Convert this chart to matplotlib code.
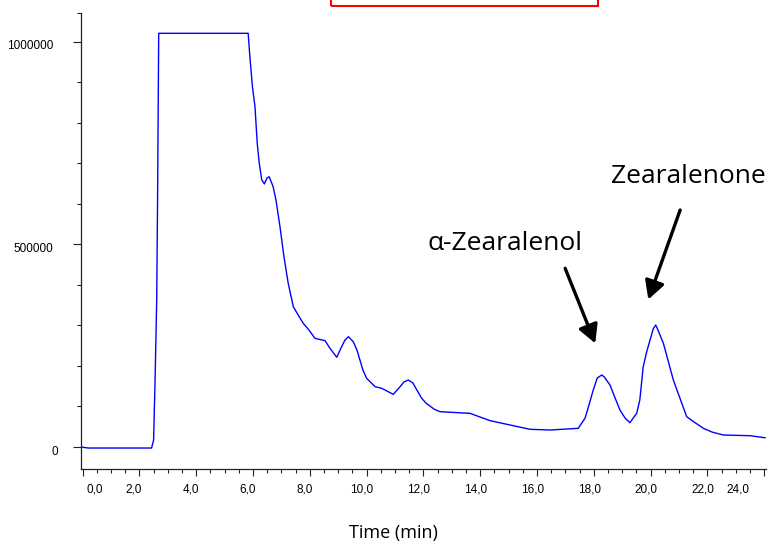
import numpy as np
import matplotlib
matplotlib.use("Agg")
import matplotlib.pyplot as plt
from matplotlib.patches import Rectangle
from matplotlib.ticker import MultipleLocator, FixedLocator
from matplotlib.transforms import ScaledTranslation

# chromatogram trace (time in min, intensity in counts)
time_min = [-0.05, 0.2, 2.43, 2.50, 2.55, 2.61, 2.64, 2.68, 5.83, 5.89, 5.98, 6.07,
            6.15, 6.22, 6.31, 6.40, 6.49, 6.57, 6.71, 6.81, 6.95, 7.09, 7.24, 7.42,
            7.59, 7.77, 7.97, 8.18, 8.54, 8.71, 8.95, 9.12, 9.24, 9.36, 9.53, 9.66,
            9.87, 10.00, 10.30, 10.53, 10.94, 11.18, 11.31, 11.47, 11.63, 11.77, 11.94,
            12.09, 12.23, 12.37, 12.58, 13.64, 14.35, 15.05, 15.75, 16.46, 17.45, 17.69,
            17.83, 17.98, 18.12, 18.28, 18.37, 18.57, 18.75, 18.92, 19.10, 19.27, 19.51,
            19.62, 19.74, 19.86, 19.98, 20.09, 20.18, 20.26, 20.45, 20.61, 20.80, 21.03,
            21.27, 21.53, 21.86, 22.16, 22.56, 23.50, 24.03]
intensity = [0, -2500, -2500, 17000, 158000, 363000, 609000, 1020600, 1020600, 963000,
             889000, 839500, 749000, 700000, 658700, 649000, 663600, 666800, 642000,
             609000, 543500, 469500, 403800, 346100, 325600, 305200, 288600, 268200,
             262200, 243500, 221300, 247400, 264000, 272100, 259800, 239300, 190000,
             169500, 148800, 144800, 130000, 148800, 160300, 165300, 157900, 140600,
             120100, 108500, 101100, 93700, 87100, 83100, 64900, 54300, 43700, 41900,
             46100, 70800, 103600, 140600, 170200, 177600, 172700, 153000, 120900,
             91300, 71500, 59900, 83100, 116000, 198100, 234400, 264000, 291000, 301000,
             288600, 255800, 214600, 165300, 120900, 74800, 61700, 46100, 37000, 29600,
             27900, 22900]

x_ticks = [0, 2, 4, 6, 8, 10, 12, 14, 16, 18, 20, 22, 24]
x_labels = ["0,0", "2,0", "4,0", "6,0", "8,0", "10,0", "12,0", "14,0", "16,0",
            "18,0", "20,0", "22,0", "24,0"]
y_ticks = [0, 500000, 1000000]
y_labels = ["0", "500000", "1000000"]

# peak annotations: (label, text position, arrow start, arrow tip)
peaks = [
    ("α-Zearalenol", (12.16, 486000), (16.99, 440900), (18.05, 255800)),
    ("Zearalenone", (18.61, 651300), (21.04, 584700), (19.92, 364000)),
]

fig = plt.figure(figsize=(7.71, 5.44), dpi=100)
ax = fig.add_axes([81 / 771, 74.7 / 544, 685 / 771, 456.3 / 544])

ax.plot(time_min, intensity, color="#0000ff", lw=1.0, solid_joinstyle="round")

ax.set_xlim(-0.056, 24.063)
ax.set_ylim(-55000, 1070700)

for s in ["top", "right"]:
    ax.spines[s].set_visible(False)
for s in ["left", "bottom"]:
    ax.spines[s].set_color("#222222")
    ax.spines[s].set_linewidth(0.9)

tick_font = dict(family="Liberation Sans", size=8.5)
ax.set_xticks(x_ticks)
ax.set_xticklabels(x_labels, **tick_font)
ax.xaxis.set_minor_locator(MultipleLocator(0.5))
ax.set_yticks(y_ticks)
ax.set_yticklabels(y_labels, **tick_font)
ax.yaxis.set_minor_locator(FixedLocator(list(range(0, 1100001, 100000)) + [1070000]))

ax.tick_params(axis="x", which="major", length=5, width=0.8, pad=5, color="#222222")
ax.tick_params(axis="x", which="minor", length=3, width=0.8, color="#222222")
ax.tick_params(axis="y", which="major", length=5.8, width=0.8, pad=14, color="#222222")
ax.tick_params(axis="y", which="minor", length=3, width=0.8, color="#222222")

# the software nudges its labels a little off the ticks
x_shift = [11.7, -5.4, -5.5, -5, -5, -5, -4.8, -4.8, -4.6, -4.5, -4.6, -4.7, -26]
for lab, dx in zip(ax.get_xticklabels(), x_shift):
    lab.set_transform(lab.get_transform() + ScaledTranslation(dx / 100, 0, fig.dpi_scale_trans))
y_shift = [5, 0, 0]
for lab, dx in zip(ax.get_yticklabels(), y_shift):
    lab.set_transform(lab.get_transform() + ScaledTranslation(dx / 100, -3.3 / 100, fig.dpi_scale_trans))

for name, txt, start, tip in peaks:
    ax.text(txt[0], txt[1], name, family="Open Sans", fontsize=19,
            ha="left", va="baseline", color="black")
    ax.annotate("", xy=tip, xytext=start,
                arrowprops=dict(arrowstyle="-|>,head_length=0.55,head_width=0.3",
                                color="black", lw=2.4, mutation_scale=20,
                                shrinkA=0, shrinkB=0))

fig.text(393 / 771, 6 / 544, "Time (min)", family="Open Sans", fontsize=13,
         ha="center", va="baseline")

# red frame cut off at the top of the picture
fig.add_artist(Rectangle((331 / 771, 538.3 / 544), 266.5 / 771, 0.1, fill=False,
                         ec="#ff0000", lw=1.5, transform=fig.transFigure, clip_on=False))

fig.savefig("out.png", dpi=100)
